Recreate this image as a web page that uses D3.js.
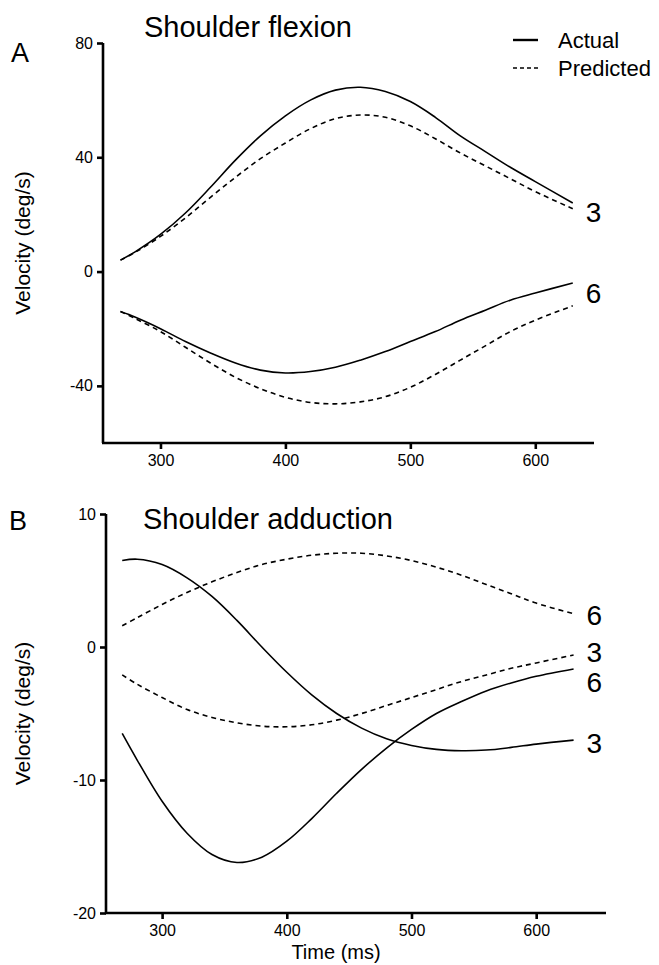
<!DOCTYPE html>
<html><head><meta charset="utf-8">
<script src="https://cdn.jsdelivr.net/npm/d3@7"></script>
<style>body{margin:0;background:#fff}svg{display:block;font-family:"Liberation Sans",Arial,sans-serif}</style>
</head><body><svg id="c" width="659" height="965"></svg>
<script>
// ---- data ----
const times = [268,280,300,320,340,360,380,400,420,440,460,480,500,520,540,560,580,600,630];
// Panel A: Shoulder flexion (deg/s)
const flexActual3    = [4,7,13,20.5,29.5,39,47.5,54.5,60,63.5,64.5,63,59.5,54,47.5,42,36.5,31.5,24];
const flexPredicted3 = [4,6.8,12.3,18.8,26,33,39.5,45,50,53.5,54.8,54,51,46.5,41.5,37,32.5,28,22];
const flexActual6    = [-14,-16,-20,-24.5,-28.5,-32,-34.5,-35.5,-35,-33.5,-31,-28,-24.5,-21,-17,-13.5,-10,-7.5,-4];
const flexPredicted6 = [-14,-16.5,-21,-26.5,-32,-37,-41,-44,-45.8,-46.3,-45.6,-43.8,-40.5,-36,-31,-26,-21,-17,-12];
// Panel B: Shoulder adduction (deg/s)
const addActual3     = [6.5,6.6,6.2,5.2,3.8,2.0,0.0,-1.9,-3.6,-5.0,-6.1,-6.9,-7.4,-7.7,-7.8,-7.75,-7.55,-7.3,-7.0];
const addPredicted3  = [-2.1,-2.8,-3.8,-4.7,-5.3,-5.7,-5.95,-6.0,-5.85,-5.5,-5.0,-4.4,-3.8,-3.2,-2.6,-2.1,-1.6,-1.2,-0.6];
const addActual6     = [-6.5,-8.5,-11.6,-14.0,-15.6,-16.2,-15.8,-14.6,-12.9,-11.0,-9.2,-7.6,-6.2,-5.0,-4.1,-3.3,-2.7,-2.2,-1.65];
const addPredicted6  = [1.6,2.2,3.2,4.1,4.9,5.6,6.2,6.6,6.9,7.05,7.05,6.85,6.5,6.0,5.4,4.7,4.0,3.3,2.5];
const xTicks = [300,400,500,600];
const yTicksA = [80,40,0,-40];
const yTicksB = [10,0,-10,-20];
const labelsA = [{text:"3",v:21},{text:"6",v:-7.5}];
const labelsB = [{text:"6",v:2.4},{text:"3",v:-0.35},{text:"6",v:-2.6},{text:"3",v:-7.2}];

const svg = d3.select("#c");
const FONT = "Liberation Sans, Arial, sans-serif";

function panel(opt){
  const g = svg.append("g");
  const x = d3.scaleLinear().domain(opt.xd).range(opt.xr);
  const y = d3.scaleLinear().domain(opt.yd).range(opt.yr);
  const line = d3.line().x((d,i)=>x(times[i])).y(d=>y(d)).curve(d3.curveCatmullRom.alpha(0.5));
  opt.series.forEach(s=>{
    g.append("path").attr("d",line(s.values)).attr("fill","none")
     .attr("stroke","#000").attr("stroke-width",1.6)
     .attr("stroke-dasharray",s.dashed?"5,4":null);
  });
  // y axis
  const ya = g.append("g").attr("transform",`translate(${opt.xr[0]},0)`)
    .call(d3.axisLeft(y).tickValues(opt.yTicks).tickSize(6).tickPadding(4).tickFormat(d=>String(d)));
  ya.select(".domain").attr("d",`M0,${opt.yr[1]}V${opt.yr[0]}`).attr("stroke-width",2.6);
  ya.selectAll(".tick line").attr("stroke-width",2.6);
  ya.selectAll("text").attr("font-size",16).attr("font-family",FONT);
  // x axis
  const xa = g.append("g").attr("transform",`translate(0,${opt.yr[0]})`)
    .call(d3.axisBottom(x).tickValues(xTicks).tickSize(6).tickPadding(6).tickFormat(d=>String(d)));
  xa.select(".domain").attr("d",`M${opt.xr[0]-1},0H${opt.xr[1]}`).attr("stroke-width",2.6);
  xa.selectAll(".tick line").attr("stroke-width",2.6);
  xa.selectAll("text").attr("font-size",16).attr("font-family",FONT);
  // curve labels
  g.selectAll("text.cl").data(opt.labels).enter().append("text").attr("class","cl")
    .attr("x",x(630)+13).attr("y",d=>y(d.v)).attr("dy","0.36em")
    .attr("font-size",28).text(d=>d.text);
  // title & panel letter
  g.append("text").attr("x",opt.title.x).attr("y",opt.title.y).attr("font-size",29).text(opt.title.t);
  g.append("text").attr("x",opt.letter.x).attr("y",opt.letter.y).attr("font-size",27).text(opt.letter.t);
  // y label
  g.append("text").attr("transform",`translate(30,${(opt.yr[0]+opt.yr[1])/2}) rotate(-90)`)
    .attr("text-anchor","middle").attr("font-size",21).text("Velocity (deg/s)");
  return {x,y,g};
}

panel({xd:[254,647], xr:[103,594], yd:[-60,80], yr:[443,43], yTicks:yTicksA,
  series:[{values:flexActual3},{values:flexPredicted3,dashed:true},{values:flexActual6},{values:flexPredicted6,dashed:true}],
  labels:labelsA, title:{t:"Shoulder flexion",x:144,y:37}, letter:{t:"A",x:11,y:62}});

panel({xd:[255,656], xr:[106,606], yd:[-20,10], yr:[913,514], yTicks:yTicksB,
  series:[{values:addActual3},{values:addPredicted3,dashed:true},{values:addActual6},{values:addPredicted6,dashed:true}],
  labels:labelsB, title:{t:"Shoulder adduction",x:143,y:529}, letter:{t:"B",x:9,y:530}});

svg.append("text").attr("x",336).attr("y",959).attr("text-anchor","middle").attr("font-size",20).text("Time (ms)");

// legend
const leg = svg.append("g");
const legItems = [{t:"Actual",dashed:false,y:40},{t:"Predicted",dashed:true,y:68}];
legItems.forEach(d=>{
  leg.append("line").attr("x1",513).attr("x2",538).attr("y1",d.y).attr("y2",d.y)
    .attr("stroke","#000").attr("stroke-width",d.dashed?1.6:2.4).attr("stroke-dasharray",d.dashed?"4,3":null);
  leg.append("text").attr("x",558).attr("y",d.y).attr("dy","0.36em").attr("font-size",22).text(d.t);
});
</script></body></html>
